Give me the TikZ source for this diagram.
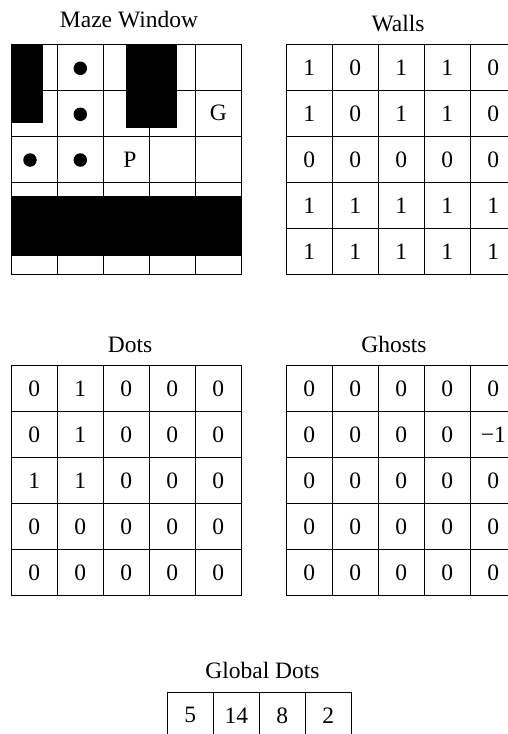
\documentclass[tikz,border=0pt]{standalone}
\usepackage{fontspec}
\setmainfont{Liberation Serif}

\begin{document}
\begin{tikzpicture}[
    x=1pt, y=-1pt,
    cell/.style={
        draw, line width=1pt,
        minimum size=46pt, inner sep=0pt,
        font=\fontsize{23.5}{28}\selectfont
    },
    title/.style={anchor=base, inner sep=0pt, font=\fontsize{23.5}{28}\selectfont},
    glyph/.style={inner sep=0pt, font=\fontsize{23.5}{28}\selectfont},
    wall/.style={fill=black},
    pellet/.style={circle, fill=black, minimum size=13.5pt, inner sep=0pt},
]

% Frame: the figure is cut off on the right and at the bottom
\useasboundingbox (0,0) rectangle (508,734);
\clip (0,0) rectangle (508,734);

% Titles
\node[title] (mazetitle) at (129,27.5) {Maze Window};
\node[title] (wallstitle) at (398,31) {Walls};
\node[title] (dotstitle) at (130,352.7) {Dots};
\node[title] (ghoststitle) at (394,352.7) {Ghosts};
\node[title] (globaltitle) at (262.5,678.3) {Global Dots};

% Maze window: empty grid, then walls, pellets and agents on top
\foreach \r in {1,...,5}
    \foreach \c in {1,...,5}
        \node[cell] (maze-\r-\c) at ({11.3+23+46*(\c-1)},{44.3+23+46*(\r-1)}) {};

\fill[wall] (11.3,44.3) rectangle (43.3,123.3);
\fill[wall] (126,44.3) rectangle (176.7,127.7);
\fill[wall] (11.3,196) rectangle (241.8,256);

\node[pellet] (pellet-1) at (80.3,68.3) {};
\node[pellet] (pellet-2) at (80.3,114.3) {};
\node[pellet] (pellet-3) at (30,160) {};
\node[pellet] (pellet-4) at (80.3,160) {};

\node[glyph] (pacman) at (130,160) {P};
\node[glyph] (ghost) at (218.3,113.3) {G};

% Walls channel
\foreach \vals [count=\r] in {{1,0,1,1,0},{1,0,1,1,0},{0,0,0,0,0},{1,1,1,1,1},{1,1,1,1,1}}
    \foreach \v [count=\c] in \vals
        \node[cell] (walls-\r-\c) at ({286.3+23+46*(\c-1)},{44.3+23+46*(\r-1)}) {\v};

% Dots channel
\foreach \vals [count=\r] in {{0,1,0,0,0},{0,1,0,0,0},{1,1,0,0,0},{0,0,0,0,0},{0,0,0,0,0}}
    \foreach \v [count=\c] in \vals
        \node[cell] (dots-\r-\c) at ({11.3+23+46*(\c-1)},{365.7+23+46*(\r-1)}) {\v};

% Ghosts channel
\foreach \vals [count=\r] in {{0,0,0,0,0},{0,0,0,0,−1},{0,0,0,0,0},{0,0,0,0,0},{0,0,0,0,0}}
    \foreach \v [count=\c] in \vals
        \node[cell] (ghosts-\r-\c) at ({286.3+23+46*(\c-1)},{365.7+23+46*(\r-1)}) {\v};

% Global dot counts
\foreach \v [count=\c] in {5,14,8,2}
    \node[cell] (global-\c) at ({167.3+23+46*(\c-1)},{692.3+23}) {\v};

\end{tikzpicture}
\end{document}
